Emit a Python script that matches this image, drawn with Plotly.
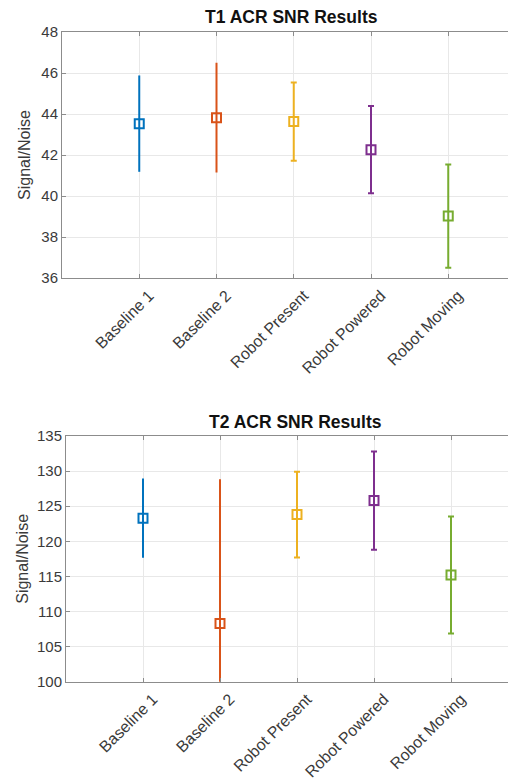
import plotly.graph_objects as go

categories = ["Baseline 1", "Baseline 2", "Robot Present", "Robot Powered", "Robot Moving"]
colors = ["#0072BD", "#D95319", "#EDB120", "#7E2F8E", "#77AC30"]

t1_mean = [43.53, 43.82, 43.63, 42.26, 39.02]
t1_err = [2.35, 2.63, 1.91, 2.13, 2.52]

t2_mean = [123.3, 108.3, 123.8, 125.8, 115.2]
t2_err = [5.65, 20.4, 6.1, 7.0, 8.35]

cap_widths = [0, 1, 3, 3, 3]

OFF = 8  # page body margin
W, H = 516 - OFF, 783 - OFF
FONT = "Liberation Sans, Arial, Helvetica, sans-serif"

fig = go.Figure()

for i, cat in enumerate(categories):
    fig.add_trace(go.Scatter(
        x=[i + 1], y=[t1_mean[i]], mode="markers",
        marker=dict(symbol="square-open", size=9, color=colors[i], line=dict(width=2, color=colors[i])),
        error_y=dict(type="data", array=[t1_err[i]], visible=True, color=colors[i],
                     thickness=2, width=cap_widths[i]),
        xaxis="x", yaxis="y", showlegend=False, name=cat))
    fig.add_trace(go.Scatter(
        x=[i + 1], y=[t2_mean[i]], mode="markers",
        marker=dict(symbol="square-open", size=9, color=colors[i], line=dict(width=2, color=colors[i])),
        error_y=dict(type="data", array=[t2_err[i]], visible=True, color=colors[i],
                     thickness=2, width=cap_widths[i]),
        xaxis="x2", yaxis="y2", showlegend=False, name=cat))

L = 62 - OFF
pw = W - L

def ydom(top_px, bot_px):
    return [1 - (bot_px - OFF) / H, 1 - (top_px - OFF) / H]

axis_common = dict(
    showline=True, linecolor="#8c8c8c", linewidth=1,
    showgrid=True, gridcolor="#e8e8e8", gridwidth=1,
    ticks="inside", ticklen=4, tickcolor="#8c8c8c",
    zeroline=False, automargin=False,
)
yfont = dict(family=FONT, size=15, color="#3a3a3a")
xfont = dict(family=FONT, size=16, color="#3a3a3a")

fig.update_layout(
    width=W, height=H,
    margin=dict(l=L, r=0, t=0, b=0),
    plot_bgcolor="white", paper_bgcolor="white",
    font=dict(family=FONT),
    xaxis=dict(domain=[0, 1], range=[0, (516 - 62) / 77.25], anchor="y",
               tickmode="array", tickvals=[1, 2, 3, 4, 5], ticktext=categories,
               tickangle=-45, mirror="ticks", tickfont=xfont,
               ticklabelshift=10, ticklabelstandoff=1, **axis_common),
    yaxis=dict(domain=ydom(32, 278), range=[36, 48], anchor="x",
               tickmode="array", tickvals=[36, 38, 40, 42, 44, 46, 48], tickfont=yfont,
               title=dict(text="Signal/Noise", font=dict(family=FONT, size=16, color="#3a3a3a"), standoff=6),
               **axis_common),
    xaxis2=dict(domain=[4 / pw, 1], range=[0, (516 - 66) / 77.0], anchor="y2",
                tickmode="array", tickvals=[1, 2, 3, 4, 5], ticktext=categories,
                tickangle=-45, mirror="ticks", tickfont=xfont,
                ticklabelshift=10, ticklabelstandoff=1, **axis_common),
    yaxis2=dict(domain=ydom(436, 681.7), range=[100, 135], anchor="x2",
                tickmode="array", tickvals=[100, 105, 110, 115, 120, 125, 130, 135], tickfont=yfont,
                title=dict(text="Signal/Noise", font=dict(family=FONT, size=16, color="#3a3a3a"), standoff=4),
                **axis_common),
    annotations=[
        dict(text="<b>T1 ACR SNR Results</b>", x=(291 - 62) / pw, y=1 - (17 - OFF) / H,
             xref="paper", yref="paper", xanchor="center", yanchor="middle",
             showarrow=False, font=dict(family=FONT, size=17.5, color="#111111")),
        dict(text="<b>T2 ACR SNR Results</b>", x=(295 - 62) / pw, y=1 - (422 - OFF) / H,
             xref="paper", yref="paper", xanchor="center", yanchor="middle",
             showarrow=False, font=dict(family=FONT, size=17.5, color="#111111")),
    ],
)

fig.write_html("out.html")
